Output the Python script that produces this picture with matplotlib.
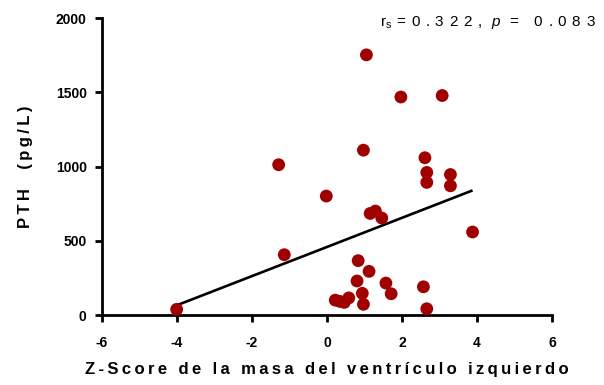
import matplotlib
matplotlib.use("Agg")
import matplotlib.pyplot as plt

# Left-ventricular mass Z-score vs PTH
z_score = [1.05, 1.97, 3.07, 0.97, -1.29, 2.61, 2.66, 2.66, 3.29, 3.29,
           -0.02, 1.15, 1.29, 1.46, 3.88, -1.14, 0.83, 1.12, 0.80, 1.57,
           1.71, 0.94, 0.97, 2.57, 2.66, -4.01, 0.22, 0.34, 0.46, 0.58]
pth = [1752, 1468, 1478, 1110, 1012, 1059, 960, 893, 946, 870,
       801, 684, 700, 653, 559, 406, 366, 294, 229, 215,
       143, 146, 72, 190, 42, 38, 100, 92, 85, 115]

# Linear fit drawn over the data range
fit_x = [-4.01, 3.88]
fit_y = [65, 839]

x_ticks = [-6, -4, -2, 0, 2, 4, 6]
y_ticks = [0, 500, 1000, 1500, 2000]

x_title = "Z-Score de la masa del ventrículo izquierdo"
y_title = "PTH  (pg/L)"

plt.rcParams["font.family"] = ["Liberation Sans", "DejaVu Sans"]
plt.rcParams["mathtext.fontset"] = "custom"
plt.rcParams["mathtext.rm"] = "Liberation Sans"
plt.rcParams["mathtext.it"] = "Liberation Sans:italic"

THIN = "\u2009"
HAIR = "\u200a"


def tracked(s, sep=THIN):
    """Widen the letter spacing by putting a narrow space between glyphs."""
    return sep.join(s)


fig = plt.figure(figsize=(6.04, 3.85), dpi=100)
ax = fig.add_axes([0.1689, 0.1818, 0.7451, 0.7714])

ax.scatter(z_score, pth, s=85, color="#a00000", edgecolors="none",
           zorder=3, clip_on=False)
ax.plot(fit_x, fit_y, color="black", lw=1.9, zorder=2, solid_capstyle="butt")

ax.set_xlim(-6, 6)
ax.set_ylim(0, 2000)
ax.set_xticks(x_ticks)
ax.set_yticks(y_ticks)
ax.set_xticklabels([str(t) for t in x_ticks])
ax.set_yticklabels([str(t) for t in y_ticks])

for side in ("top", "right"):
    ax.spines[side].set_visible(False)
for side in ("left", "bottom"):
    ax.spines[side].set_linewidth(2.0)

ax.tick_params(axis="both", direction="out", length=5, width=2.0,
               labelsize=10)
ax.tick_params(axis="x", pad=10)
ax.tick_params(axis="y", pad=6)
for lab in ax.get_xticklabels() + ax.get_yticklabels():
    lab.set_fontweight("bold")

ax.set_xlabel(tracked(x_title), fontsize=12, fontweight="bold", labelpad=9)
ax.set_ylabel(tracked(y_title), fontsize=12, fontweight="bold")
ax.yaxis.set_label_coords(-0.153, 0.5)

sep = THIN + HAIR + HAIR
fig.text(0.987, 0.932,
         "r$_{\\mathrm{s}}$" + sep + tracked("=0.322, ", sep) + "$p$"
         + tracked(" = 0.083", sep),
         ha="right", va="baseline", fontsize=11)

fig.savefig("out.png", dpi=100)
